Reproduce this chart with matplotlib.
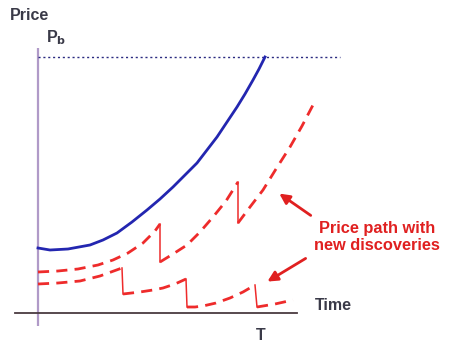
import matplotlib.pyplot as plt

plt.rcParams['font.family'] = ['Liberation Sans', 'DejaVu Sans']

# time / price (origin at the axes crossing)
blue_t = [0, 12, 30, 52, 65, 79, 94, 109, 122, 135, 147, 159, 169, 179, 189, 199, 207, 215, 221, 227]
blue_p = [65, 63, 64, 68, 73, 80, 91, 103, 114, 126, 138, 150, 163, 176, 191, 206, 219, 233, 244, 256]

upper_segs = [
    ([0, 20, 40, 60, 75, 90, 105, 117, 122], [41, 42, 44, 48, 53, 60, 70, 82, 89]),
    ([122, 135, 149, 162, 175, 188, 200], [51, 59, 68, 81, 96, 112, 131]),
    ([200, 212, 225, 238, 252, 264, 275], [90, 106, 123, 144, 166, 187, 208]),
]
lower_segs = [
    ([0, 20, 42, 62, 84], [29, 30, 32, 37, 45]),
    ([85, 102, 115, 125, 137, 148], [19, 21, 23, 25, 29, 34]),
    ([149, 157, 165, 178, 192, 205, 217], [6, 6, 7, 10, 15, 21, 28]),
    ([219, 237, 255], [6, 9, 13]),
]

p_b = 256
t_end = 302
T_mark = 223

fig = plt.figure(figsize=(4.54, 3.51), dpi=100)
ax = fig.add_axes([0, 0, 1, 1])
ax.set_xlim(-38, 416)
ax.set_ylim(-38, 313)
ax.axis('off')

# axes lines
ax.plot([0, 0], [-13, 265], color='#b09ac8', lw=1.6, solid_capstyle='butt')
ax.plot([-23, 259], [0, 0], color='#4a3a40', lw=1.3)

# P_b level
ax.plot([0, t_end], [p_b, p_b], color='#2a2a80', lw=1, ls=(0, (1.5, 2)))

# blue path
ax.plot(blue_t, blue_p, color='#2326b0', lw=2)

# red dashed paths with solid drops
for segs in (upper_segs, lower_segs):
    for i, (t, p) in enumerate(segs):
        ax.plot(t, p, color='#ee2b2b', lw=2, ls=(0, (4, 2.6)))
        if i > 0:
            prev_t, prev_p = segs[i - 1]
            ax.plot([prev_t[-1], t[0]], [prev_p[-1], p[0]], color='#ee2b2b', lw=1.1)

# annotation arrows
arrow = dict(arrowstyle='-|>', color='#e02020', lw=2, mutation_scale=15)
ax.annotate('', xy=(239, 121), xytext=(275, 96), arrowprops=arrow)
ax.annotate('', xy=(227, 30), xytext=(270, 56), arrowprops=arrow)

ax.text(339, 76, 'Price path with\nnew discoveries', color='#e02020', fontsize=11.8,
        fontweight='bold', ha='center', va='center', linespacing=1.1)

ax.text(-28, 297, 'Price', color='#3a3a48', fontsize=11.5, fontweight='bold',
        ha='left', va='center')
ax.text(8, 275, r'P$_\mathbf{b}$', color='#3a3a48', fontsize=11.5, fontweight='bold',
        ha='left', va='center')
ax.text(277, 7, 'Time', color='#3a3a48', fontsize=11.5, fontweight='bold',
        ha='left', va='center')
ax.text(T_mark, -23, 'T', color='#3a3a48', fontsize=11.5, fontweight='bold',
        ha='center', va='center')

fig.savefig('out.png', dpi=100)
